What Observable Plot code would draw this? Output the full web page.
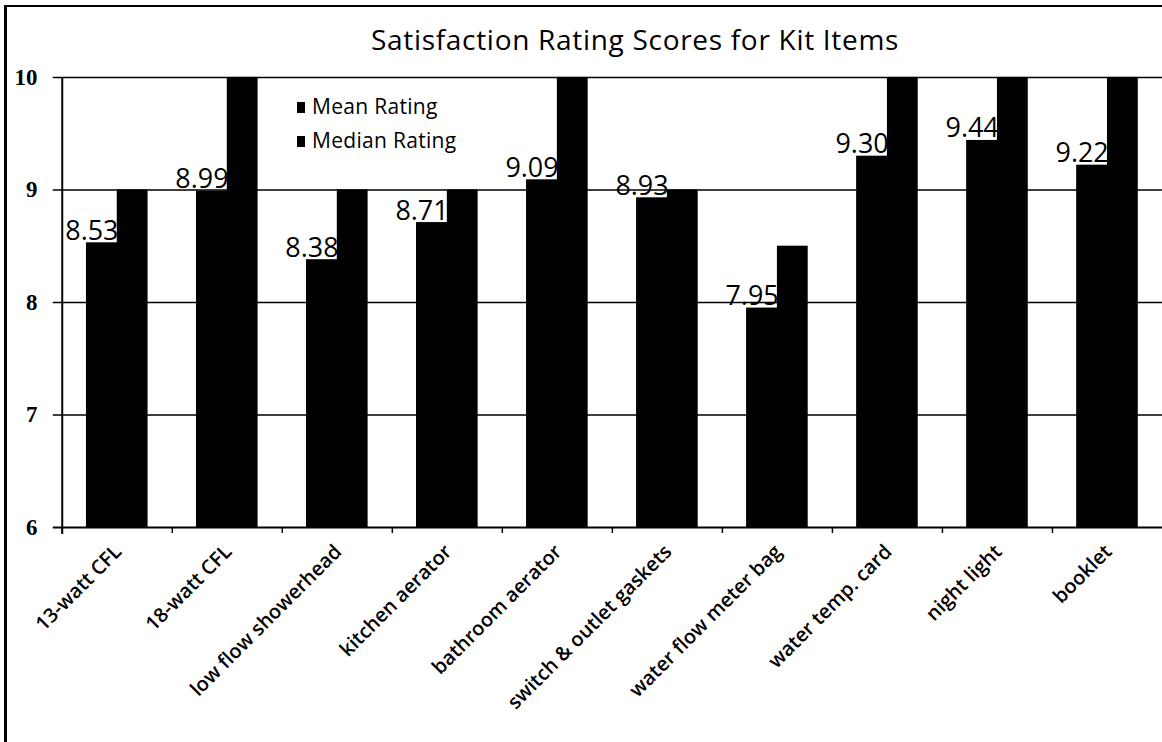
<!DOCTYPE html>
<html>
<head>
<meta charset="utf-8">
<script src="https://cdn.jsdelivr.net/npm/d3@7"></script>
<script src="https://cdn.jsdelivr.net/npm/@observablehq/plot@0.6"></script>
<style>
  html, body { margin: 0; padding: 0; background: #fff; overflow: hidden; }
  #wrap { position: relative; width: 1162px; height: 742px; overflow: hidden; background: #fff; }
  #title { position: absolute; left: 0; top: 25px; width: 1270px; text-align: center;
           font: 28px "Open Sans", sans-serif; line-height: 28px; color: #000; letter-spacing: 0.7px; }
  #chart { position: absolute; left: 0; top: 60px; }
  #legend { position: absolute; left: 297px; top: 96px; font: 21px "Open Sans", sans-serif; color: #000; }
  #legend .row { position: relative; height: 34px; line-height: 20px; padding-left: 15px; letter-spacing: 0.3px; }
  #legend .sw { position: absolute; left: 0; top: 6px; width: 8px; height: 11px; background: #000; }
  #border { position: absolute; left: 4px; top: 5px; width: 1300px; height: 900px; z-index: 5;
            border-left: 3px solid #000; border-top: 2px solid #000; pointer-events: none; }
</style>
</head>
<body>
<div id="wrap">
  <div id="title"></div>
  <div id="chart"></div>
  <div id="legend"></div>
  <div id="border"></div>
</div>
<script>
// Kit items and their satisfaction ratings (0–10 scale, axis shown from 6)
const items = [
  "13-watt CFL", "18-watt CFL", "low flow showerhead", "kitchen aerator",
  "bathroom aerator", "switch & outlet gaskets", "water flow meter bag",
  "water temp. card", "night light", "booklet"
];
const meanRating   = [8.53, 8.99, 8.38, 8.71, 9.09, 8.93, 7.95, 9.30, 9.44, 9.22];
const medianRating = [9, 10, 9, 9, 10, 9, 8.5, 10, 10, 10];
const seriesNames  = ["Mean Rating", "Median Rating"];
const yTicks       = [6, 7, 8, 9, 10];
const gridValues   = [7, 8, 9, 10];
const titleText    = "Satisfaction Rating Scores for Kit Items";

const rows = items.map((item, i) => ({item, mean: meanRating[i], median: medianRating[i]}));

// layout
const width = 1167, height = 682;
const marginLeft = 62, marginRight = 0, marginTop = 17, marginBottom = 213;
const bw = (width - marginLeft - marginRight) / items.length; // category band width
const font = "'Open Sans', sans-serif";

const chart = Plot.plot({
  width, height, marginLeft, marginRight, marginTop, marginBottom,
  style: {background: "#fff", color: "#000", overflow: "hidden"},
  x: {type: "band", domain: items, padding: 0, round: false, axis: null},
  y: {domain: [6, 10], axis: null},
  marks: [
    // horizontal gridlines (extend left into tick marks)
    Plot.ruleY(gridValues, {stroke: "#000", strokeWidth: 1.6, insetLeft: -9}),
    // mean bars: left half of the bar pair
    Plot.barY(rows, {x: "item", y1: 6, y2: "mean", fill: "#000",
      insetLeft: bw * 0.22, insetRight: bw * 0.5 - 1}),
    // mean value labels
    Plot.text(rows, {x: "item", y: "mean", text: d => d.mean.toFixed(2),
      dx: -bw * 0.14 - 10, dy: -3, lineAnchor: "bottom", textAnchor: "middle",
      fontFamily: font, fontSize: 27, fill: "#000"}),
    // median bars: right half of the bar pair (drawn over the labels)
    Plot.barY(rows, {x: "item", y1: 6, y2: "median", fill: "#000",
      insetLeft: bw * 0.5, insetRight: bw * 0.22}),
    // x axis line
    Plot.ruleY([6], {stroke: "#000", strokeWidth: 2, insetLeft: -9}),
    // y axis line
    Plot.ruleX([items[0]], {x: d => d, dx: -bw / 2, y1: 10, y2: 6, insetBottom: -7,
      stroke: "#000", strokeWidth: 2}),
    // category boundary tick marks
    Plot.ruleX(items, {x: d => d, dx: -bw / 2, y1: 6, y2: 6, insetBottom: -6,
      stroke: "#000", strokeWidth: 1.5}),
    // y tick labels, right-aligned left of the y axis
    Plot.text(yTicks, {x: () => items[0], y: d => d, text: d => String(d), dx: -bw / 2 - 25,
      textAnchor: "end", lineAnchor: "middle",
      fontFamily: "'Liberation Serif', serif", fontWeight: "bold", fontSize: 23, fill: "#000"}),
    // rotated category labels
    Plot.text(items, {x: d => d, y: 6, text: d => d, rotate: -45, textAnchor: "end",
      lineAnchor: "middle", dx: 1, dy: 21, fontFamily: font, fontWeight: 600,
      fontSize: 20, fill: "#000"})
  ]
});
document.getElementById("chart").appendChild(chart);

document.getElementById("title").textContent = titleText;

const legend = document.getElementById("legend");
for (const name of seriesNames) {
  const row = document.createElement("div");
  row.className = "row";
  const sw = document.createElement("span");
  sw.className = "sw";
  row.appendChild(sw);
  row.appendChild(document.createTextNode(name));
  legend.appendChild(row);
}
</script>
</body>
</html>
